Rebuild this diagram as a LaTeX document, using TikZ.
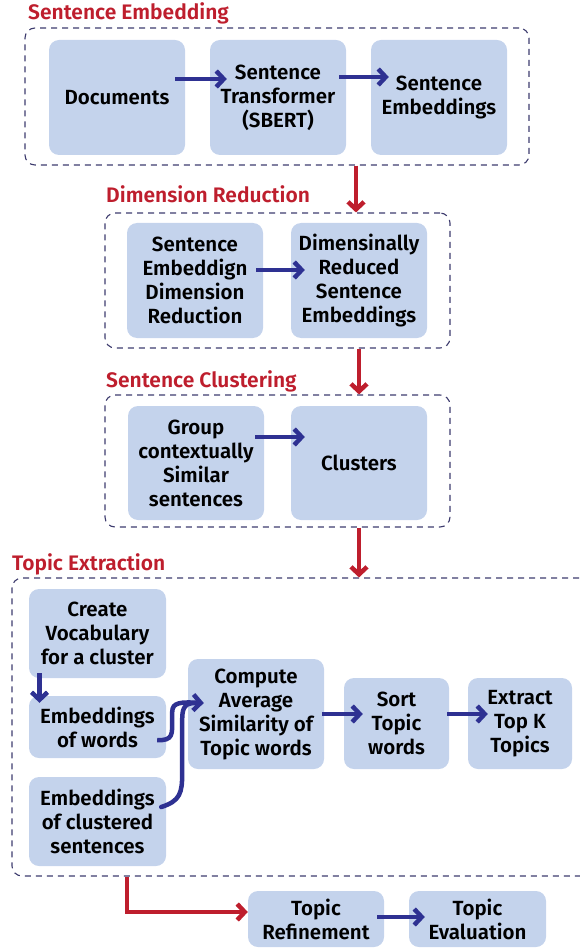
\documentclass[tikz,border=0pt]{standalone}
\usepackage{fontspec}
\setmainfont{Fira Sans}
\newfontfamily\lab{Fira Sans SemiBold}
\usetikzlibrary{arrows.meta,calc}
\definecolor{boxfill}{HTML}{C4D3EC}
\definecolor{arrblue}{HTML}{2E3192}
\definecolor{arrred}{HTML}{BE1E2D}
\definecolor{dashc}{HTML}{3E3C6E}
\tikzset{
  box/.style={fill=boxfill, rounded corners=10pt, inner sep=0pt, align=center,
    font=\lab\fontsize{20.5}{24}\selectfont, text=black},
  grp/.style={draw=dashc, dash pattern=on 6pt off 5pt, line width=1.1pt,
    rounded corners=10pt, inner sep=0pt},
  ttl/.style={anchor=base west, text=arrred, font=\lab\fontsize{21}{24}\selectfont, inner sep=0pt},
  barrow/.style={draw=arrblue, line width=4.5pt, -{Straight Barb[length=7.5pt,width=16pt]}},
  bline/.style={draw=arrblue, line width=4.5pt, line cap=round},
  rarrow/.style={draw=arrred, line width=4.5pt, -{Straight Barb[length=7.5pt,width=16pt]}},
}
\begin{document}
\begin{tikzpicture}[x=1pt,y=-1pt]
\useasboundingbox (0,0) rectangle (579,949);
% groups
\node[grp, minimum width=504pt, minimum height=137pt] (g1) at (277,96.5) {};
\node[grp, minimum width=345pt, minimum height=135pt] (g2) at (277.5,280.5) {};
\node[grp, minimum width=345pt, minimum height=132pt] (g3) at (277.5,461) {};
\node[grp, minimum width=588pt, minimum height=298pt] (g4) at (306,727) {};
% titles
\node[ttl] (t1) at (28,20) {Sentence Embedding};
\node[ttl] (t2) at (106,203) {Dimension Reduction};
\node[ttl] (t3) at (106,387) {Sentence Clustering};
\node[ttl] (t4) at (12,570) {Topic Extraction};
% section 1
\node[box, minimum width=136pt, minimum height=115pt] (doc) at (117,97.5) {Documents};
\node[box, minimum width=136pt, minimum height=115pt] (st) at (278,97.5) {Sentence\\Transformer\\(SBERT)};
\node[box, minimum width=136pt, minimum height=115pt] (se) at (439,97.5) {Sentence\\Embeddings};
% section 2
\node[box, minimum width=136pt, minimum height=115pt] (sedr) at (195,280.5) {Sentence\\Embeddign\\Dimension\\Reduction};
\node[box, minimum width=136pt, minimum height=115pt] (drse) at (359,280.5) {Dimensinally\\Reduced\\Sentence\\Embeddings};
% section 3
\node[box, minimum width=136pt, minimum height=114pt] (grpn) at (196,463) {Group\\contextually\\Similar\\sentences};
\node[box, minimum width=136pt, minimum height=114pt] (clus) at (359,463) {Clusters};
% section 4
\node[box, minimum width=137pt, minimum height=89pt] (create) at (97.5,633.5) {Create\\Vocabulary\\for a cluster};
\node[box, minimum width=137pt, minimum height=62pt] (eow) at (97.5,727) {Embeddings\\of words};
\node[box, minimum width=137pt, minimum height=89pt] (ecs) at (97.5,821.5) {Embeddings\\of clustered\\sentences};
\node[box, minimum width=136pt, minimum height=110pt] (comp) at (256,714) {Compute\\Average\\Similarity of\\Topic words};
\node[box, minimum width=105pt, minimum height=91pt] (sort) at (396.5,723.5) {Sort\\Topic\\words};
\node[box, minimum width=104pt, minimum height=91pt] (extr) at (520,723.5) {Extract\\Top K\\Topics};
% bottom
\node[box, minimum width=136pt, minimum height=56pt] (tref) at (316,919) {Topic\\Refinement};
\node[box, minimum width=137pt, minimum height=56pt] (teval) at (477.5,919) {Topic\\Evaluation};
% blue arrows
\draw[barrow] ([shift={(-10,-18.5)}]doc.east) -- ([shift={(17,-18.5)}]st.west);
\draw[barrow] ([shift={(-7,-20.5)}]st.east) -- ([shift={(18,-20.5)}]se.west);
\draw[barrow] ([shift={(-7,-10.5)}]sedr.east) -- ([shift={(14,-10.5)}]drse.west);
\draw[barrow] ([shift={(-9,-26)}]grpn.east) -- ([shift={(14,-26)}]clus.west);
\draw[barrow] ([shift={(-58,-5)}]create.south) -- ([shift={(-58,7)}]eow.north);
\draw[barrow] ([shift={(-2,0)}]comp.east) -- ([shift={(19,-9.5)}]sort.west);
\draw[barrow] ([shift={(-2,-9.5)}]sort.east) -- ([shift={(20,-9.5)}]extr.west);
\draw[barrow] ([shift={(-7,-2)}]tref.east) -- ([shift={(16,-2)}]teval.west);
% merging curves
\coordinate (m1) at ([shift={(-9,13)}]eow.east);
\coordinate (m2) at ([shift={(-5,-14.5)}]ecs.east);
\coordinate (mt) at ([shift={(16,-11)}]comp.west);
\draw[bline] (m2) .. controls ($(m2)+(19,-6)$) and ($(m2)+(21,-14)$) .. ($(m2)+(21,-34)$)
  -- ($(m2)+(21,-88)$) .. controls ($(m2)+(21,-101)$) and ($(m2)+(25,-104)$) .. ($(mt)+(-8,0)$);
\draw[barrow] (m1) .. controls ($(m1)+(16,1)$) and ($(m1)+(15,-6)$) .. ($(m1)+(15,-20)$)
  -- ($(m1)+(15,-28)$) .. controls ($(m1)+(15,-38)$) and ($(m1)+(24,-38)$) .. (mt);
% red arrows
\coordinate (r1) at ([xshift=79pt]g1.south);
\draw[rarrow] (r1) -- (r1 |- g2.north);
\coordinate (r2) at ([xshift=81.5pt]g2.south);
\draw[rarrow] (r2) -- (r2 |- g3.north);
\coordinate (r3) at ([xshift=81.5pt]g3.south);
\draw[rarrow] (r3) -- (r3 |- g4.north);
\coordinate (r4) at ([xshift=-179pt]g4.south);
\draw[rarrow] (r4) |- ([shift={(0,-7)}]tref.west);
\end{tikzpicture}
\end{document}
